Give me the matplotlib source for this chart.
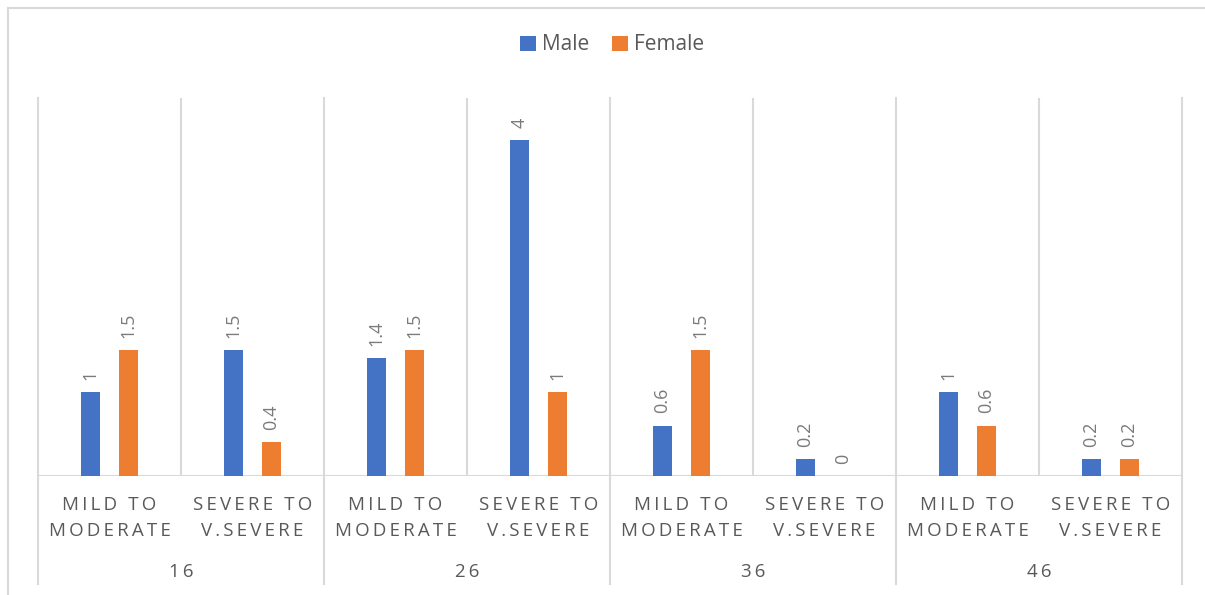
import matplotlib.pyplot as plt
import numpy as np
from matplotlib.lines import Line2D
from matplotlib.transforms import blended_transform_factory

plt.rcParams["font.family"] = ["Open Sans", "DejaVu Sans"]

groups = ["16", "26", "36", "46"]
severity = ["MILD TO\nMODERATE", "SEVERE TO\nV.SEVERE"]
male = [1, 1.5, 1.4, 4, 0.6, 0.2, 1, 0.2]
female = [1.5, 0.4, 1.5, 1, 1.5, 0, 0.6, 0.2]

blue = "#4472c4"
orange = "#ed7d31"
grid = "#d9d9d9"
text_col = "#595959"


def spaced(s):
    # excel style letter spacing
    out = []
    for line in s.split("\n"):
        out.append("\u2009 \u2009".join("\u2009".join(word) for word in line.split(" ")))
    return "\n".join(out)


fig = plt.figure(figsize=(12.05, 5.95), dpi=100)
ax = fig.add_axes([38 / 1205, 1 - 476 / 595, 1144 / 1205, 378 / 595])

x = np.arange(len(male))
w = 0.136
off = 0.133
b1 = ax.bar(x - off, male, w, color=blue, label="Male", zorder=3)
b2 = ax.bar(x + off, female, w, color=orange, label="Female", zorder=3)

for bars, vals in [(b1, male), (b2, female)]:
    for r, v in zip(bars, vals):
        ax.annotate(f"{v:g}", (r.get_x() + r.get_width() / 2, v),
                    xytext=(0, 9), textcoords="offset points",
                    rotation=90, ha="center", va="bottom",
                    fontsize=13, color="#7a7a7a")

ax.set_xlim(-0.5, len(male) - 0.5)
ax.set_ylim(0, 4.5)
ax.set_xticks([])
ax.set_yticks([])
for s in ax.spines.values():
    s.set_visible(False)
ax.axhline(0, color=grid, lw=1.5, zorder=2)

# inner separators between severity categories
for xi in np.arange(0.5, len(male), 2):
    ax.axvline(xi, color=grid, lw=1.5, zorder=1)

# group separators reaching down through the label area
tr = blended_transform_factory(ax.transData, fig.transFigure)
for xi in np.arange(-0.5, len(male), 2):
    fig.add_artist(Line2D([xi, xi], [1 - 584 / 595, 1 - 98 / 595],
                          transform=tr, color=grid, lw=1.5))

for i in range(len(male)):
    ax.text(i, 1 - 518 / 595, spaced(severity[i % 2]), transform=tr,
            ha="center", va="center", fontsize=13.5, color=text_col,
            linespacing=1.5)
for g, name in enumerate(groups):
    ax.text(2 * g + 0.5, 1 - 572 / 595, spaced(name), transform=tr,
            ha="center", va="center", fontsize=13.5, color=text_col)

# outer chart border (left and top visible)
fig.add_artist(Line2D([8 / 1205, 1], [1 - 8 / 595, 1 - 8 / 595],
                      transform=fig.transFigure, color=grid, lw=1.5))
fig.add_artist(Line2D([8 / 1205, 8 / 1205], [0, 1 - 8 / 595],
                      transform=fig.transFigure, color=grid, lw=1.5))

fig.legend(handles=[b1, b2], loc="center", bbox_to_anchor=(612 / 1205, 1 - 45 / 595),
           ncol=2, frameon=False, fontsize=15, labelcolor=text_col,
           handlelength=0.75, handleheight=0.75, handletextpad=0.3, columnspacing=1.1)

fig.savefig("out.png", dpi=100)
